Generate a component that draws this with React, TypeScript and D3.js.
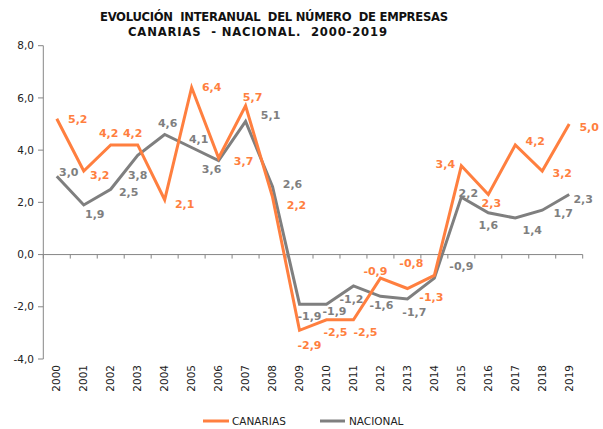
import * as d3 from 'd3';

const years = d3.range(2000, 2020).map(String);
const canarias = [5.2, 3.2, 4.2, 4.2, 2.1, 6.4, 3.7, 5.7, 2.2, -2.9, -2.5, -2.5, -0.9, -1.3, -0.8, 3.4, 2.3, 4.2, 3.2, 5.0];
const nacional = [3.0, 1.9, 2.5, 3.8, 4.6, 4.1, 3.6, 5.1, 2.6, -1.9, -1.9, -1.2, -1.6, -1.7, -0.9, 2.2, 1.6, 1.4, 1.7, 2.3];
const yTicks = [-4, -2, 0, 2, 4, 6, 8];
const titleLines = ['EVOLUCIÓN  INTERANUAL  DEL NÚMERO  DE EMPRESAS', 'CANARIAS  - NACIONAL.  2000-2019'];

// label nudges (px) so labels sit where the original chart put them
const canariasNudge = [
  [21, 0], [16, 4], [-2, -12], [-5, -12], [20, 4], [20, 0], [25, 3], [7, -9], [24, 8], [10, 15],
  [9, 12], [12, 12], [-5, -7], [24, 9], [-23, -12], [-16, -2], [3, 9], [20, -4], [20, 2], [20, 3],
];
const nacionalNudge = [
  [12, -4], [11, 9], [18, 3], [0, 20], [3, -11], [7, -8], [-7, 9], [25, -6], [20, -3], [10, 12],
  [8, 7], [-2, 13], [1, 9], [7, 13], [27, -12], [7, -4], [0, 12], [17, 12], [21, 3], [14, 5],
];

const ORANGE = '#FF7F3F';
const GREY = '#7F7F7F';
const AXIS = '#868686';
const FONT = '"DejaVu Sans", Verdana, sans-serif';

const fmt = (v: number) => v.toFixed(1).replace('.', ',');

export default function App() {
  const width = 603;
  const height = 429;

  const x = d3.scaleBand().domain(years).range([43.3, 582.7]);
  const y = d3.scaleLinear().domain([-4, 8]).range([359, 45.7]);
  const cx = (i: number) => (x(years[i]) ?? 0) + x.bandwidth() / 2;

  const line = d3
    .line<number>()
    .x((_, i) => cx(i))
    .y((d) => y(d));

  const series = [
    { values: nacional, color: GREY, nudge: nacionalNudge },
    { values: canarias, color: ORANGE, nudge: canariasNudge },
  ];

  const boundaries = d3.range(years.length + 1).map((i) => x.range()[0] + i * x.step());

  return (
    <svg
      width={width}
      height={height}
      style={{ position: 'absolute', left: 0, top: 0, display: 'block', background: '#fff' }}
      fontFamily={FONT}
    >
      <g fontWeight="bold" fontSize={11.6} fill="#111">
        <text x={100} y={21} textLength={348} lengthAdjust="spacing" style={{ whiteSpace: 'pre' }}>
          {titleLines[0]}
        </text>
        <text x={128} y={36} textLength={259} lengthAdjust="spacing" style={{ whiteSpace: 'pre' }}>
          {titleLines[1]}
        </text>
      </g>

      {/* y axis */}
      <line x1={43.3} x2={43.3} y1={y(8)} y2={y(-4)} stroke={AXIS} />
      {yTicks.map((t) => (
        <g key={t}>
          <line x1={38} x2={43.3} y1={y(t)} y2={y(t)} stroke={AXIS} />
          <text x={34} y={y(t)} dy="0.35em" textAnchor="end" fontSize={10.5} fill="#222">
            {fmt(t)}
          </text>
        </g>
      ))}

      {/* x axis on zero */}
      <line x1={x.range()[0]} x2={x.range()[1]} y1={y(0)} y2={y(0)} stroke={AXIS} />
      {boundaries.map((b, i) => (
        <line key={i} x1={b} x2={b} y1={y(0)} y2={y(0) + 4} stroke={AXIS} />
      ))}
      {years.map((yr, i) => (
        <text
          key={yr}
          transform={`translate(${cx(i)},365) rotate(-90)`}
          textAnchor="end"
          dy="0.35em"
          fontSize={10.5}
          fill="#222"
        >
          {yr}
        </text>
      ))}

      {series.map((s) => (
        <path key={s.color} d={line(s.values) ?? ''} fill="none" stroke={s.color} strokeWidth={3} strokeLinejoin="miter" />
      ))}

      {series.map((s) => (
        <g key={s.color + 'lab'} fontSize={11} fontWeight="bold" fill={s.color} textAnchor="middle">
          {s.values.map((v, i) => (
            <text key={i} x={cx(i) + s.nudge[i][0]} y={y(v) + s.nudge[i][1]} dy="0.35em">
              {fmt(v)}
            </text>
          ))}
        </g>
      ))}

      {/* legend */}
      <g fontSize={10.5} fill="#222">
        <line x1={203} x2={229} y1={421} y2={421} stroke={ORANGE} strokeWidth={3} />
        <text x={232} y={421} dy="0.35em">CANARIAS</text>
        <line x1={320} x2={345} y1={421} y2={421} stroke={GREY} strokeWidth={3} />
        <text x={349} y={421} dy="0.35em">NACIONAL</text>
      </g>
    </svg>
  );
}
